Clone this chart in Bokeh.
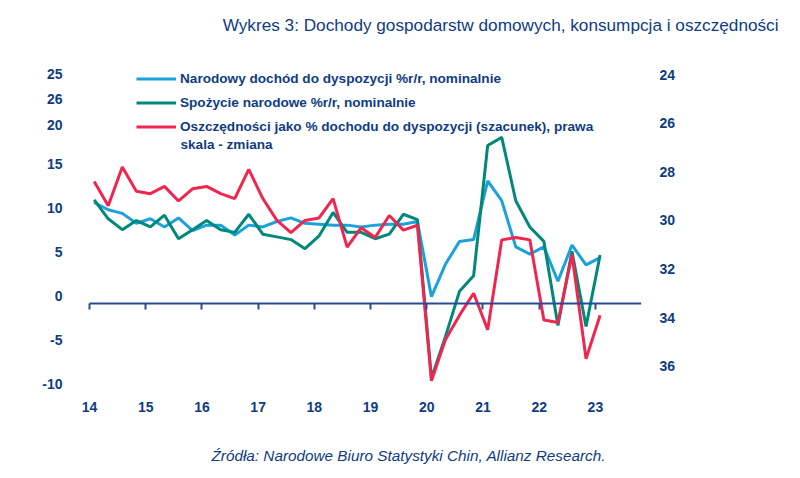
from bokeh.plotting import figure
from bokeh.models import Range1d, LinearAxis, FixedTicker, Legend, LegendItem, Title, Label
from bokeh.embed import file_html
from bokeh.resources import INLINE

# ---------------- data ----------------
quarters = ["2014Q1", "2014Q2", "2014Q3", "2014Q4",
            "2015Q1", "2015Q2", "2015Q3", "2015Q4",
            "2016Q1", "2016Q2", "2016Q3", "2016Q4",
            "2017Q1", "2017Q2", "2017Q3", "2017Q4",
            "2018Q1", "2018Q2", "2018Q3", "2018Q4",
            "2019Q1", "2019Q2", "2019Q3", "2019Q4",
            "2020Q1", "2020Q2", "2020Q3", "2020Q4",
            "2021Q1", "2021Q2", "2021Q3", "2021Q4",
            "2022Q1", "2022Q2", "2022Q3", "2022Q4",
            "2023Q1"]

# Narodowy dochód do dyspozycji %r/r, nominalnie (left axis)
income = [11.2, 10.4, 10.0, 8.9, 9.4, 8.5, 9.5, 8.1, 8.7, 8.7, 7.6, 8.7,
          8.5, 9.1, 9.5, 8.9, 8.8, 8.7, 8.7, 8.5, 8.7, 8.8, 8.8, 9.1,
          0.8, 4.4, 6.9, 7.1, 13.6, 11.4, 6.3, 5.5, 6.3, 2.5, 6.5, 4.3, 5.1]

# Spożycie narodowe %r/r, nominalnie (left axis)
consumption = [11.5, 9.4, 8.2, 9.2, 8.5, 9.8, 7.2, 8.2, 9.2, 8.2, 7.9, 9.9,
               7.7, 7.4, 7.1, 6.1, 7.5, 10.1, 7.9, 7.9, 7.2, 7.7, 9.9, 9.3,
               -8.2, -3.6, 1.4, 3.1, 17.5, 18.4, 11.4, 8.5, 6.9, -2.4, 5.8, -2.5, 5.4]

# Oszczędności jako % dochodu do dyspozycji (right axis, inverted)
savings = [28.4, 29.4, 27.8, 28.8, 28.9, 28.6, 29.2, 28.7, 28.6, 28.9, 29.1, 27.9,
           29.1, 30.0, 30.5, 30.0, 29.9, 29.1, 31.1, 30.3, 30.7, 29.8, 30.4, 30.2,
           36.6, 34.9, 33.9, 33.0, 34.5, 30.8, 30.7, 30.8, 34.1, 34.2, 31.4, 35.7, 33.9]

years = [2014, 2015, 2016, 2017, 2018, 2019, 2020, 2021, 2022, 2023]
year_labels = ["14", "15", "16", "17", "18", "19", "20", "21", "22", "23"]

right_ticks = [24, 26, 28, 30, 32, 34, 36]

left_tick_labels = ["25", "26", "20", "15", "10", "5", "0", "-5", "-10"]
left_tick_pos = [25.2, 22.35, 19.4, 15, 10, 5, 0, -5, -10]

series_labels = ["Narodowy dochód do dyspozycji %r/r, nominalnie",
                 "Spożycie narodowe %r/r, nominalnie",
                 "Oszczędności jako % dochodu do dyspozycji (szacunek), prawa"]
label_cont = "skala - zmiana"

title_text = "Wykres 3: Dochody gospodarstw domowych, konsumpcja i oszczędności"
source_text = "Źródła: Narodowe Biuro Statystyki Chin, Allianz Research."

# ---------------- style ----------------
NAVY = "#0F3C82"
AXIS = "#2B4A96"
BLUE = "#1BA1DB"
TEAL = "#00887A"
RED = "#F0264F"
FONT = "Liberation Sans"

x = [int(q[:4]) + (int(q[-1]) - 1) / 4 + 1 / 12 for q in quarters]

p = figure(width=800, height=478,
           x_range=Range1d(2013.662, 2023.82), y_range=Range1d(-13.889, 28.444),
           output_backend="svg", toolbar_location=None,
           x_axis_location=None, y_axis_location=None,
           min_border_left=70, min_border_right=159,
           min_border_top=0, min_border_bottom=0,
           title=None)
p.outline_line_color = None
p.background_fill_color = "white"
p.border_fill_color = "white"
p.grid.visible = False

p.extra_y_ranges = {"sav": Range1d(start=38.605, end=22.842),
                    "lab": Range1d(start=-15.165, end=28.278)}

r1 = p.line(x, income, line_color=BLUE, line_width=3)
r2 = p.line(x, consumption, line_color=TEAL, line_width=3)
r3 = p.line(x, savings, line_color=RED, line_width=3, y_range_name="sav")

# zero line with year ticks and year labels
ax0 = LinearAxis(fixed_location=0, ticker=FixedTicker(ticks=years),
                 bounds=(2014, 2023.82),
                 major_label_overrides=dict(zip(years, year_labels)),
                 axis_line_color=AXIS, axis_line_width=2,
                 major_tick_line_color=AXIS, major_tick_line_width=2,
                 major_tick_out=6, major_tick_in=0, minor_tick_line_color=None,
                 major_label_standoff=92,
                 major_label_text_font=FONT, major_label_text_font_size="14px",
                 major_label_text_font_style="bold", major_label_text_color=NAVY)
p.add_layout(ax0, "below")

src = Title(text=source_text, align="left", offset=141, standoff=30,
            text_font=FONT, text_font_size="15.3px", text_font_style="italic",
            text_color=NAVY)
p.add_layout(src, "below")

ttl = Title(text=title_text, align="right", offset=-137, standoff=24,
            text_font=FONT, text_font_size="17.2px", text_font_style="normal",
            text_color=NAVY)
p.add_layout(ttl, "above")

# left labels
ayl = LinearAxis(y_range_name="lab", ticker=FixedTicker(ticks=left_tick_pos),
                 major_label_overrides=dict(zip(left_tick_pos, left_tick_labels)),
                 axis_line_color=None, major_tick_line_color=None,
                 major_tick_out=0, major_tick_in=0, minor_tick_line_color=None,
                 major_label_standoff=8,
                 major_label_text_font=FONT, major_label_text_font_size="14px",
                 major_label_text_font_style="bold", major_label_text_color=NAVY)
p.add_layout(ayl, "left")

# right labels
ayr = LinearAxis(y_range_name="sav", ticker=FixedTicker(ticks=right_ticks),
                 axis_line_color=None, major_tick_line_color=None,
                 major_tick_out=0, major_tick_in=0, minor_tick_line_color=None,
                 major_label_standoff=18,
                 major_label_text_font=FONT, major_label_text_font_size="14px",
                 major_label_text_font_style="bold", major_label_text_color=NAVY)
p.add_layout(ayr, "right")

legend = Legend(items=[LegendItem(label=series_labels[0], renderers=[r1]),
                       LegendItem(label=series_labels[1], renderers=[r2]),
                       LegendItem(label=series_labels[2], renderers=[r3])],
                location=(66, 294), orientation="vertical",
                border_line_color=None, background_fill_alpha=0,
                padding=0, margin=0, spacing=7,
                glyph_width=40, glyph_height=17, label_height=17, label_standoff=4,
                label_text_font=FONT, label_text_font_size="13.6px",
                label_text_font_style="bold", label_text_color=NAVY)
p.add_layout(legend)

cont = Label(x=2015.618, y=17.667, text=label_cont, text_baseline="middle",
             text_align="left", text_font=FONT, text_font_size="13.6px",
             text_font_style="bold", text_color=NAVY)
p.add_layout(cont)

open("out.html", "w").write(file_html(p, INLINE))
